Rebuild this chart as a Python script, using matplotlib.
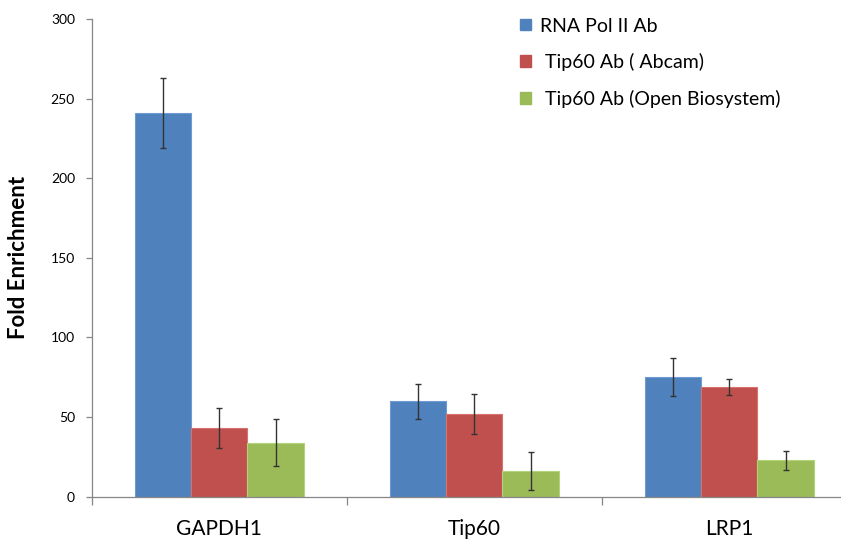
import numpy as np
import matplotlib
matplotlib.use('Agg')
from matplotlib import pyplot as plt
from matplotlib.patches import Patch

plt.rcParams['font.family'] = ['Lato', 'DejaVu Sans']

# ChIP fold enrichment per gene and antibody
genes = ['GAPDH1', 'Tip60', 'LRP1']
antibodies = ['RNA Pol II Ab', ' Tip60 Ab ( Abcam)', ' Tip60 Ab (Open Biosystem)']
pol2 = [241, 60, 75]
pol2_err = [22, 11, 12]
tip60_abcam = [43, 52, 69]
tip60_abcam_err = [12.5, 12.5, 5]
tip60_open = [34, 16, 23]
tip60_open_err = [15, 12, 6]

colors = ['#4F81BD', '#C0504D', '#9BBB59']
edges = ['#6F9BD3', '#D8726F', '#B3D37A']

fig = plt.figure(figsize=(8.41, 5.43), dpi=100)
ax = fig.add_axes([0.109, 0.0853, 0.9096, 0.8797])

x = np.arange(len(genes))
w = 0.221
series = [(pol2, pol2_err), (tip60_abcam, tip60_abcam_err), (tip60_open, tip60_open_err)]
for i, (vals, errs) in enumerate(series):
    ax.bar(x + (i - 1) * w, vals, w, color=colors[i], edgecolor=edges[i], linewidth=0.8,
           yerr=errs, error_kw=dict(ecolor='#333333', elinewidth=1.0, capsize=2.2, capthick=1.0),
           zorder=2)

ax.set_xlim(-0.5, 2.5)
ax.set_ylim(0, 300)
ax.set_yticks(np.arange(0, 301, 50))

# tick marks on category boundaries, labels under the groups
ax.set_xticks(np.arange(-0.5, 2.6, 1.0))
ax.set_xticklabels([])
ax.set_xticks(x, minor=True)
ax.set_xticklabels(genes, minor=True, fontsize=15)
ax.tick_params(axis='x', which='minor', length=0, pad=16)
ax.tick_params(axis='x', which='major', length=6, color='#868686', width=0.9)
ax.tick_params(axis='y', length=4, color='#868686', width=0.9, labelsize=10, pad=8)

for s in ['top', 'right']:
    ax.spines[s].set_visible(False)
for s in ['left', 'bottom']:
    ax.spines[s].set_color('#868686')
    ax.spines[s].set_linewidth(0.9)

ax.set_ylabel('Fold Enrichment', fontsize=16, fontweight='bold', labelpad=16)

handles = [Patch(facecolor=c, edgecolor=c) for c in colors]
fig.legend(handles, antibodies, loc='upper left', bbox_to_anchor=(0.598, 1.0),
           frameon=False, fontsize=14, handlelength=0.55, handleheight=0.55,
           handletextpad=0.45, labelspacing=0.95)

plt.savefig('out.png', dpi=100)
